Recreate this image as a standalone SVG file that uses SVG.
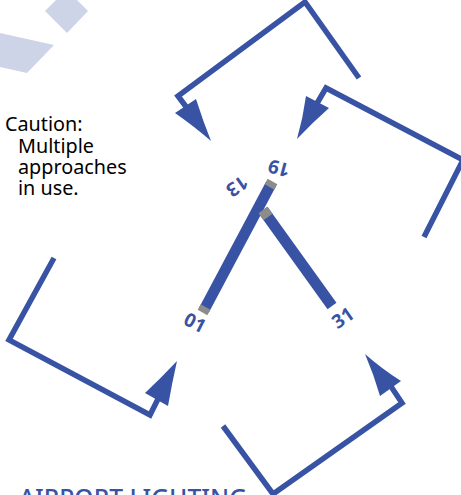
<svg xmlns="http://www.w3.org/2000/svg" width="461" height="495" viewBox="0 0 461 495">
<style>
.leg{fill:none;stroke:#3953a4;stroke-width:5.500;stroke-linejoin:miter}
.head{fill:#3953a4}
.rw{stroke:#3953a4;stroke-width:11;fill:none}
.end{stroke:#8c8c8c;stroke-width:11;fill:none}
.num{font-family:"Noto Sans",sans-serif;font-size:19px;font-weight:bold;fill:#3953a4;text-anchor:middle}
.note{font-family:"Noto Sans",sans-serif;font-size:19.800px;fill:#000}
.bg{fill:#cdd4e8}
</style>
<rect width="461" height="495" fill="#fff"/>
<g id="background-shapes">
<polygon class="bg" points="45,11 56,0 77,0 88,11 67,33"/>
<polygon class="bg" points="0,33 54,45 27,73 0,67"/>
</g>
<g id="connectors">
<path class="leg" d="M359,78 L305,2 L178,96 L190,112"/>
<path class="leg" d="M424,237 L463,160 L326,88 L316,105"/>
<path class="leg" d="M54,258 L9,340 L150,415 L160,395"/>
<path class="leg" d="M223,426 L273,494 L402,403 L390,385"/>
<path class="head" d="M211,141 Q195,127 175,113 L196,99 Q203,121 211,141Z"/>
<path class="head" d="M297,139 Q303,118 306,96 L329,108 Q312,123 297,139Z"/>
<path class="head" d="M177,361 Q161,378 145,393 L168,406 Q172,383 177,361Z"/>
<path class="head" d="M365,354 Q382,369 401,381 L380,396 Q374,375 365,354Z"/>
</g>
<g id="runway-01-19">
<path class="rw" d="M271,184 L204,310"/>
<path class="end" d="M272.500,181.500 L269.500,187"/>
<path class="end" d="M205.500,307 L202.500,312.500"/>
<text class="num" transform="translate(279,168) rotate(195)" dy="6.500">19</text>
<text class="num" transform="translate(195,323) rotate(27)" dy="6.500">01</text>
</g>
<g id="runway-13-31">
<path class="rw" d="M263,210 L332,306"/>
<path class="end" d="M263,210 L268,217"/>
<text class="num" transform="translate(237,186) rotate(145)" dy="6.500">13</text>
<text class="num" transform="translate(343,318) rotate(-35)" dy="6.500">31</text>
</g>
<g id="caution-note">
<text class="note"><tspan x="5" y="131">Caution:</tspan><tspan x="18" y="153">Multiple</tspan><tspan x="18" y="174">approaches</tspan><tspan x="18" y="195">in use.</tspan></text>
</g>
<g id="section-title">
<text x="19" y="507" font-family="Noto Sans, sans-serif" font-size="24.600" font-weight="500" fill="#3953a4">AIRPORT LIGHTING</text>
</g>
</svg>
